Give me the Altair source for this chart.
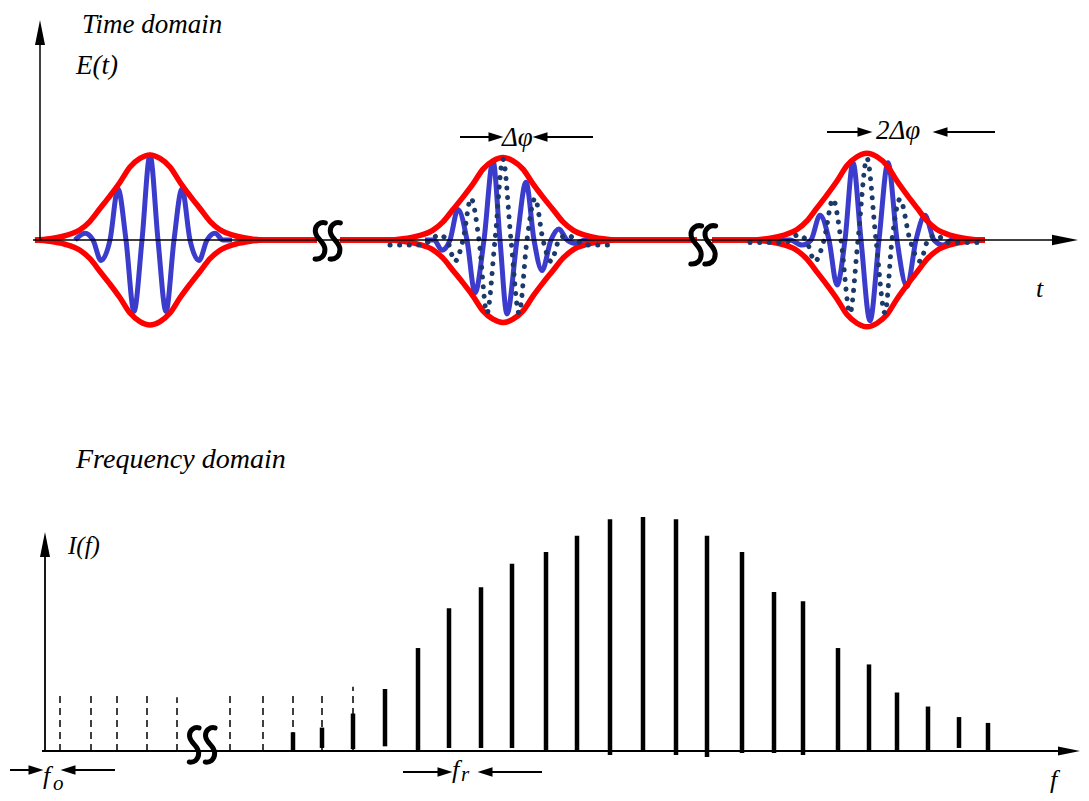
import altair as alt
import pandas as pd

# ---------------- Time domain data (t: time units, E: normalised field) ----------------
pulse_centers = [150, 503, 867]
pulse_peaks = [1.0, 0.97, 1.02]
env_offsets = [-115, -100, -85, -70, -60, -50, -40, -30, -20, -10, 0,
               10, 20, 30, 40, 50, 60, 70, 85, 100, 115]
env_shape = [0, 0.015, 0.05, 0.12, 0.22, 0.37, 0.52, 0.68, 0.86, 0.96, 1.0,
             0.96, 0.86, 0.68, 0.52, 0.37, 0.22, 0.12, 0.05, 0.015, 0]
env_tail_from = [35, 340, 712]
env_tail_to = [317, 697, 985]

carrier1_t = [75, 85, 93, 101, 110, 118, 126, 134, 142, 150, 158, 166, 174, 182, 190, 199, 207, 215, 223, 232]
carrier1_E = [0, 0.08, 0, -0.24, 0, 0.6, 0, -0.84, 0, 1.0, 0, -0.84, 0, 0.6, 0, -0.24, 0, 0.08, 0, 0]
carrier2_t = [425, 434, 442, 450, 458, 467, 475, 484, 493, 500, 507, 517, 526, 534, 542, 551, 559, 567, 576, 585, 595]
carrier2_E = [0, 0, -0.12, 0, 0.36, 0, -0.62, 0, 0.93, 0, -0.87, 0, 0.68, 0, -0.36, 0, 0.13, 0, -0.04, 0, 0]
carrier3_t = [757, 790, 802, 811, 820, 829, 837, 845, 853, 861, 870, 879, 888, 897, 907, 916, 925, 934, 943, 952, 985]
carrier3_E = [0, 0, -0.06, 0, 0.29, 0, -0.53, 0, 0.91, 0, -0.95, 0, 0.91, 0, -0.55, 0, 0.29, 0, -0.06, 0, 0]

prev2_t = [390, 422, 431, 439, 447, 455, 463, 471, 479, 487, 495, 503, 511, 519, 527, 535, 543, 551, 559, 567, 576, 585, 615]
prev2_E = [-0.06, -0.06, 0, 0.06, 0, -0.25, 0, 0.49, 0, -0.86, 0, 0.95, 0, -0.86, 0, 0.49, 0, -0.25, 0, 0.06, 0, -0.06, -0.06]
prev3_t = [750, 785, 798, 806, 815, 824, 833, 841, 850, 858, 867, 876, 885, 892, 900, 910, 920, 928, 937, 946, 985]
prev3_E = [-0.03, -0.03, 0.06, 0, -0.25, 0, 0.48, 0, -0.86, 0, 0.96, 0, -0.86, 0, 0.48, 0, -0.25, 0, 0.06, -0.03, -0.03]

# ---------------- Frequency domain data ----------------
dashed_f = [60, 91, 117, 147, 177, 230, 263, 293, 322, 353]
dashed_I = [0.25, 0.25, 0.24, 0.25, 0.23, 0.25, 0.245, 0.25, 0.255, 0.275]
comb_f = [293, 322, 353, 385, 418, 449, 481, 512, 546, 577, 610, 643,
          676, 707, 742, 774, 803, 838, 869, 897, 928, 959, 988]
comb_I = [0.08, 0.10, 0.16, 0.265, 0.44, 0.61, 0.70, 0.80, 0.85, 0.92, 0.99, 1.0,
          0.99, 0.92, 0.85, 0.68, 0.64, 0.44, 0.37, 0.25, 0.19, 0.145, 0.12]
comb_base = [-0.004, 0.013, 0.008, 0.02, 0.004, 0.013, 0.013, 0.013, -0.004, 0.004, -0.017, 0.004,
             -0.017, -0.026, -0.009, -0.009, -0.017, 0.004, 0.004, 0.004, 0.004, 0.013, 0.004]

# ---------------- layout ----------------
W = 1073
TOP_H, BOT_H = 392, 383
T0_PX, E_PX = 232, 85       # E=0 line 232 px below panel top, 85 px per unit
F0_PX, I_PX = 351, 234      # I=0 line 351 px below panel top, 234 px per unit
E_MAX = T0_PX / E_PX
E_MIN = E_MAX - TOP_H / E_PX
I_MAX = F0_PX / I_PX
I_MIN = I_MAX - BOT_H / I_PX

xs = alt.Scale(domain=[8, 8 + W], nice=False, zero=False)
ys_top = alt.Scale(domain=[E_MIN, E_MAX], nice=False, zero=False)
ys_bot = alt.Scale(domain=[I_MIN, I_MAX], nice=False, zero=False)


def ey(py):  # page y -> E units (top panel)
    return (240 - py) / E_PX


def iy(py):  # page y -> I units (bottom panel)
    return (751 - py) / I_PX


SERIF = "Liberation Serif"
HEAD_AXIS = "M1,0L-1,-0.4L-1,0.4Z"
HEAD_ANN = "M1,0L-1,-0.62L-1,0.62Z"
SQUIG = ("M0.28,-0.95 C0.05,-1.02 -0.3,-0.85 -0.24,-0.45 "
         "C-0.18,-0.08 0.26,0.05 0.26,0.45 C0.26,0.82 0.0,0.98 -0.26,0.95")

# ---- build tables ----
carriers = pd.concat([
    pd.DataFrame({"t": carrier1_t, "E": carrier1_E, "pulse": "1"}),
    pd.DataFrame({"t": carrier2_t, "E": carrier2_E, "pulse": "2"}),
    pd.DataFrame({"t": carrier3_t, "E": carrier3_E, "pulse": "3"}),
])
prevs = pd.concat([
    pd.DataFrame({"t": prev2_t, "E": prev2_E, "pulse": "2"}),
    pd.DataFrame({"t": prev3_t, "E": prev3_E, "pulse": "3"}),
])
env_rows = []
for i, (c, pk) in enumerate(zip(pulse_centers, pulse_peaks)):
    for side, sgn in (("top", 1), ("bot", -1)):
        key = f"{i}{side}"
        env_rows.append({"t": env_tail_from[i], "E": 0, "k": key})
        for o, s in zip(env_offsets, env_shape):
            env_rows.append({"t": c + o, "E": sgn * pk * s, "k": key})
        env_rows.append({"t": env_tail_to[i], "E": 0, "k": key})
envelopes = pd.DataFrame(env_rows)

X = lambda f="x": alt.X(f"{f}:Q", scale=xs, axis=None)
YT = lambda f="y": alt.Y(f"{f}:Q", scale=ys_top, axis=None)
YB = lambda f="y": alt.Y(f"{f}:Q", scale=ys_bot, axis=None)

blue = alt.Chart(carriers).mark_line(color="#3b3bcc", strokeWidth=5, interpolate="monotone").encode(
    x=X("t"), y=YT("E"), detail="pulse:N")
red = alt.Chart(envelopes).mark_line(color="#ff0000", strokeWidth=5.5, interpolate="monotone").encode(
    x=X("t"), y=YT("E"), detail="k:N")
dots = alt.Chart(prevs).mark_line(color="#1b3a6b", strokeWidth=5, strokeDash=[0.1, 9.5],
                                  strokeCap="round", interpolate="monotone").encode(
    x=X("t"), y=YT("E"), detail="pulse:N")


def rules(df, Y, width):
    return alt.Chart(df).mark_rule(color="black", strokeWidth=width).encode(
        x=X("x"), x2="x2", y=Y("y"), y2="y2")


def heads(df, Y, shape):
    return alt.Chart(df).mark_point(shape=shape, filled=True, color="black", opacity=1, strokeWidth=0).encode(
        x=X("x"), y=Y("y"), size=alt.Size("s:Q", scale=None, legend=None),
        angle=alt.Angle("a:Q", scale=None))


def squiggles(df, Y):
    return alt.Chart(df).mark_point(shape=SQUIG, filled=False, color="black", opacity=1,
                                    strokeWidth=5, strokeCap="round").encode(
        x=X("x"), y=Y("y"), size=alt.Size("s:Q", scale=None, legend=None))


def texts(df, Y):
    return alt.Chart(df).mark_text(font=SERIF, fontStyle="italic", align="left",
                                   baseline="alphabetic", color="black").encode(
        x=X("x"), y=Y("y"), text="txt:N", size=alt.Size("fs:Q", scale=None, legend=None))


# ---- top panel decorations ----
top_axes = pd.DataFrame([
    {"x": 33, "x2": 1060, "y": ey(240), "y2": ey(240)},
    {"x": 40, "x2": 40, "y": ey(240), "y2": ey(40)},
])
top_ann = pd.DataFrame([
    {"x": 460, "x2": 496, "y": ey(137), "y2": ey(137)},
    {"x": 540, "x2": 593, "y": ey(137), "y2": ey(137)},
    {"x": 827, "x2": 865, "y": ey(132), "y2": ey(132)},
    {"x": 940, "x2": 995, "y": ey(132), "y2": ey(132)},
])
top_heads_axis = pd.DataFrame([
    {"x": 40, "y": ey(32.5), "s": 625, "a": 270},
    {"x": 1065, "y": ey(240), "s": 676, "a": 0},
])
top_heads_ann = pd.DataFrame([
    {"x": 496, "y": ey(137), "s": 225, "a": 0},
    {"x": 540, "y": ey(137), "s": 225, "a": 180},
    {"x": 865, "y": ey(132), "s": 225, "a": 0},
    {"x": 940, "y": ey(132), "s": 225, "a": 180},
])
top_squig = pd.DataFrame([
    {"x": 320, "y": ey(241), "s": 1444},
    {"x": 335, "y": ey(241), "s": 1444},
    {"x": 696, "y": ey(245), "s": 1600},
    {"x": 710, "y": ey(245), "s": 1600},
])
top_text = pd.DataFrame([
    {"txt": "Time domain", "x": 82, "y": ey(33), "fs": 27},
    {"txt": "E(t)", "x": 76, "y": ey(74), "fs": 27},
    {"txt": "t", "x": 1036, "y": ey(297), "fs": 26},
    {"txt": "Δφ", "x": 502, "y": ey(146), "fs": 27},
    {"txt": "2Δφ", "x": 876, "y": ey(139), "fs": 27},
])

top = alt.layer(
    blue, red, dots,
    rules(top_axes, YT, 1.5), rules(top_ann, YT, 2),
    heads(top_heads_axis, YT, HEAD_AXIS), heads(top_heads_ann, YT, HEAD_ANN),
    squiggles(top_squig, YT), texts(top_text, YT),
).properties(width=W, height=TOP_H)

# ---- bottom panel ----
dashed = alt.Chart(pd.DataFrame({"f": dashed_f, "I": dashed_I})).mark_rule(
    color="black", strokeWidth=1.5, strokeDash=[7, 5]).encode(
    x=X("f"), y=alt.Y("zero:Q", scale=ys_bot, axis=None), y2="I:Q").transform_calculate(zero="0")
solid = alt.Chart(pd.DataFrame({"f": comb_f, "I": comb_I, "b": comb_base})).mark_rule(
    color="black", strokeWidth=4.5).encode(x=X("f"), y=YB("b"), y2="I:Q")

bot_axes = pd.DataFrame([
    {"x": 42, "x2": 1070, "y": iy(751), "y2": iy(751)},
    {"x": 45, "x2": 45, "y": iy(751), "y2": iy(555)},
])
bot_ann = pd.DataFrame([
    {"x": 10, "x2": 36, "y": iy(770), "y2": iy(770)},
    {"x": 68, "x2": 115, "y": iy(770), "y2": iy(770)},
    {"x": 403, "x2": 445, "y": iy(772), "y2": iy(772)},
    {"x": 485, "x2": 542, "y": iy(772), "y2": iy(772)},
])
bot_heads_axis = pd.DataFrame([
    {"x": 45, "y": iy(544.5), "s": 625, "a": 270},
    {"x": 1069, "y": iy(751), "s": 484, "a": 0},
])
bot_heads_ann = pd.DataFrame([
    {"x": 36, "y": iy(770), "s": 225, "a": 0},
    {"x": 68, "y": iy(770), "s": 225, "a": 180},
    {"x": 445, "y": iy(772), "s": 225, "a": 0},
    {"x": 485, "y": iy(772), "s": 225, "a": 180},
])
bot_squig = pd.DataFrame([
    {"x": 194, "y": iy(745), "s": 1296},
    {"x": 210, "y": iy(745), "s": 1296},
])
bot_text = pd.DataFrame([
    {"txt": "Frequency domain", "x": 76, "y": iy(468), "fs": 28},
    {"txt": "I(f)", "x": 68, "y": iy(554), "fs": 25},
    {"txt": "f", "x": 1050, "y": iy(788), "fs": 26},
    {"txt": "f", "x": 43, "y": iy(784), "fs": 26},
    {"txt": "o", "x": 53, "y": iy(790), "fs": 21},
    {"txt": "f", "x": 452, "y": iy(778), "fs": 26},
    {"txt": "r", "x": 461, "y": iy(781), "fs": 21},
])

bottom = alt.layer(
    dashed, solid,
    rules(bot_axes, YB, 1.8), rules(bot_ann, YB, 2),
    heads(bot_heads_axis, YB, HEAD_AXIS), heads(bot_heads_ann, YB, HEAD_ANN),
    squiggles(bot_squig, YB), texts(bot_text, YB),
).properties(width=W, height=BOT_H)

chart = alt.vconcat(top, bottom, spacing=0, bounds="flush", padding=0,
                    background="white").configure_view(stroke=None)

chart.save("out.html", embed_options={"renderer": "svg", "actions": False})
